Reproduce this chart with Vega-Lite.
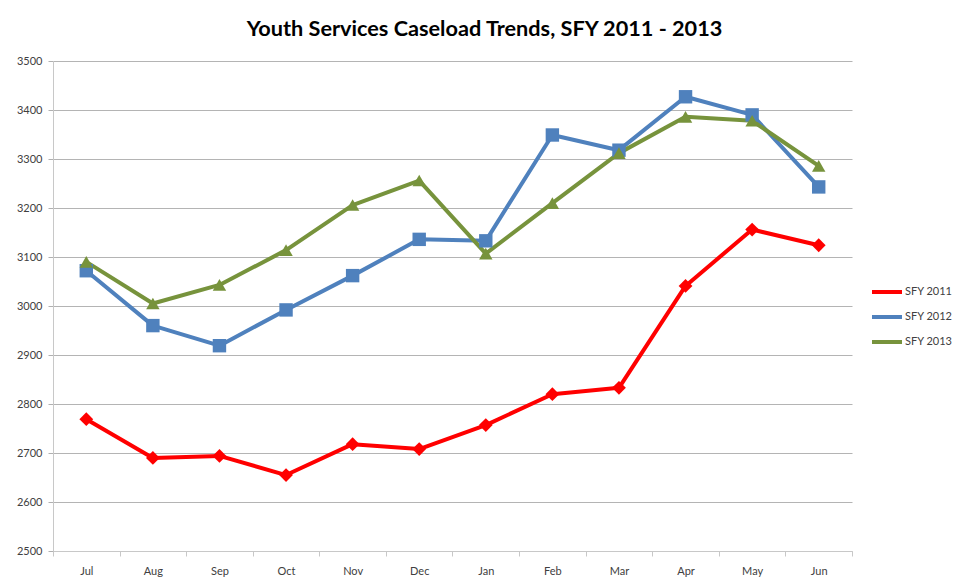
{
  "$schema": "https://vega.github.io/schema/vega-lite/v6.json",
  "width": 799,
  "height": 490,
  "autosize": {"type": "none"},
  "padding": {"left": 53, "top": 61, "right": 106, "bottom": 31},
  "background": "white",
  "title": {
    "text": "Youth Services Caseload Trends, SFY 2011 - 2013",
    "font": "Lato",
    "fontSize": 21.7,
    "fontWeight": "bold",
    "color": "#000000",
    "anchor": "middle",
    "dx": 32,
    "offset": 14
  },
  "data": {
    "values": [
      {"month": "Jul", "series": "SFY 2011", "value": 2769},
      {"month": "Aug", "series": "SFY 2011", "value": 2690},
      {"month": "Sep", "series": "SFY 2011", "value": 2694},
      {"month": "Oct", "series": "SFY 2011", "value": 2655},
      {"month": "Nov", "series": "SFY 2011", "value": 2718},
      {"month": "Dec", "series": "SFY 2011", "value": 2708},
      {"month": "Jan", "series": "SFY 2011", "value": 2757},
      {"month": "Feb", "series": "SFY 2011", "value": 2820},
      {"month": "Mar", "series": "SFY 2011", "value": 2833},
      {"month": "Apr", "series": "SFY 2011", "value": 3041},
      {"month": "May", "series": "SFY 2011", "value": 3156},
      {"month": "Jun", "series": "SFY 2011", "value": 3124},
      {"month": "Jul", "series": "SFY 2012", "value": 3072},
      {"month": "Aug", "series": "SFY 2012", "value": 2960},
      {"month": "Sep", "series": "SFY 2012", "value": 2919},
      {"month": "Oct", "series": "SFY 2012", "value": 2992},
      {"month": "Nov", "series": "SFY 2012", "value": 3062},
      {"month": "Dec", "series": "SFY 2012", "value": 3136},
      {"month": "Jan", "series": "SFY 2012", "value": 3133},
      {"month": "Feb", "series": "SFY 2012", "value": 3349},
      {"month": "Mar", "series": "SFY 2012", "value": 3318},
      {"month": "Apr", "series": "SFY 2012", "value": 3427},
      {"month": "May", "series": "SFY 2012", "value": 3390},
      {"month": "Jun", "series": "SFY 2012", "value": 3243},
      {"month": "Jul", "series": "SFY 2013", "value": 3090},
      {"month": "Aug", "series": "SFY 2013", "value": 3005},
      {"month": "Sep", "series": "SFY 2013", "value": 3043},
      {"month": "Oct", "series": "SFY 2013", "value": 3114},
      {"month": "Nov", "series": "SFY 2013", "value": 3206},
      {"month": "Dec", "series": "SFY 2013", "value": 3256},
      {"month": "Jan", "series": "SFY 2013", "value": 3107},
      {"month": "Feb", "series": "SFY 2013", "value": 3210},
      {"month": "Mar", "series": "SFY 2013", "value": 3312},
      {"month": "Apr", "series": "SFY 2013", "value": 3386},
      {"month": "May", "series": "SFY 2013", "value": 3378},
      {"month": "Jun", "series": "SFY 2013", "value": 3286}
    ]
  },
  "encoding": {
    "x": {
      "field": "month",
      "type": "nominal",
      "sort": ["Jul", "Aug", "Sep", "Oct", "Nov", "Dec", "Jan", "Feb", "Mar", "Apr", "May", "Jun"],
      "scale": {"paddingInner": 0, "paddingOuter": 0},
      "axis": {
        "title": null,
        "labelAngle": 0,
        "labelFont": "Lato",
        "labelFontSize": 11,
        "labelColor": "#404040",
        "labelPadding": 9,
        "tickBand": "extent",
        "tickSize": 5,
        "tickColor": "#c8c8c8",
        "domainColor": "#c8c8c8",
        "domainWidth": 1,
        "grid": false
      }
    },
    "y": {
      "field": "value",
      "type": "quantitative",
      "scale": {"domain": [2500, 3500], "nice": false, "zero": false},
      "axis": {
        "title": null,
        "format": "d",
        "values": [2500, 2600, 2700, 2800, 2900, 3000, 3100, 3200, 3300, 3400, 3500],
        "labelFont": "Lato",
        "labelFontSize": 11,
        "labelColor": "#404040",
        "labelPadding": 6,
        "tickSize": 5,
        "tickColor": "#b0b0b0",
        "domainColor": "#c8c8c8",
        "domainWidth": 1,
        "grid": true,
        "gridColor": "#b4b4b4",
        "gridWidth": 1
      }
    },
    "color": {
      "field": "series",
      "type": "nominal",
      "scale": {"domain": ["SFY 2011", "SFY 2012", "SFY 2013"], "range": ["#ff0000", "#4f81bd", "#77933c"]},
      "legend": {
        "title": null,
        "orient": "none",
        "legendX": 817,
        "legendY": 214,
        "symbolType": "stroke",
        "symbolStrokeWidth": 4,
        "symbolSize": 900,
        "labelFont": "Lato",
        "labelFontSize": 11,
        "labelColor": "#404040",
        "rowPadding": -1,
        "labelOffset": 1
      }
    }
  },
  "layer": [
    {
      "mark": {"type": "line", "strokeWidth": 4, "strokeJoin": "round"}
    },
    {
      "transform": [{"filter": "datum.series === 'SFY 2011'"}],
      "mark": {"type": "point", "filled": true, "opacity": 1, "size": 190, "shape": "diamond"}
    },
    {
      "transform": [{"filter": "datum.series === 'SFY 2012'"}],
      "mark": {"type": "point", "filled": true, "opacity": 1, "size": 180, "shape": "square"}
    },
    {
      "transform": [{"filter": "datum.series === 'SFY 2013'"}],
      "mark": {"type": "point", "filled": true, "opacity": 1, "size": 180, "shape": "triangle-up"}
    }
  ],
  "config": {
    "view": {"stroke": null}
  }
}
